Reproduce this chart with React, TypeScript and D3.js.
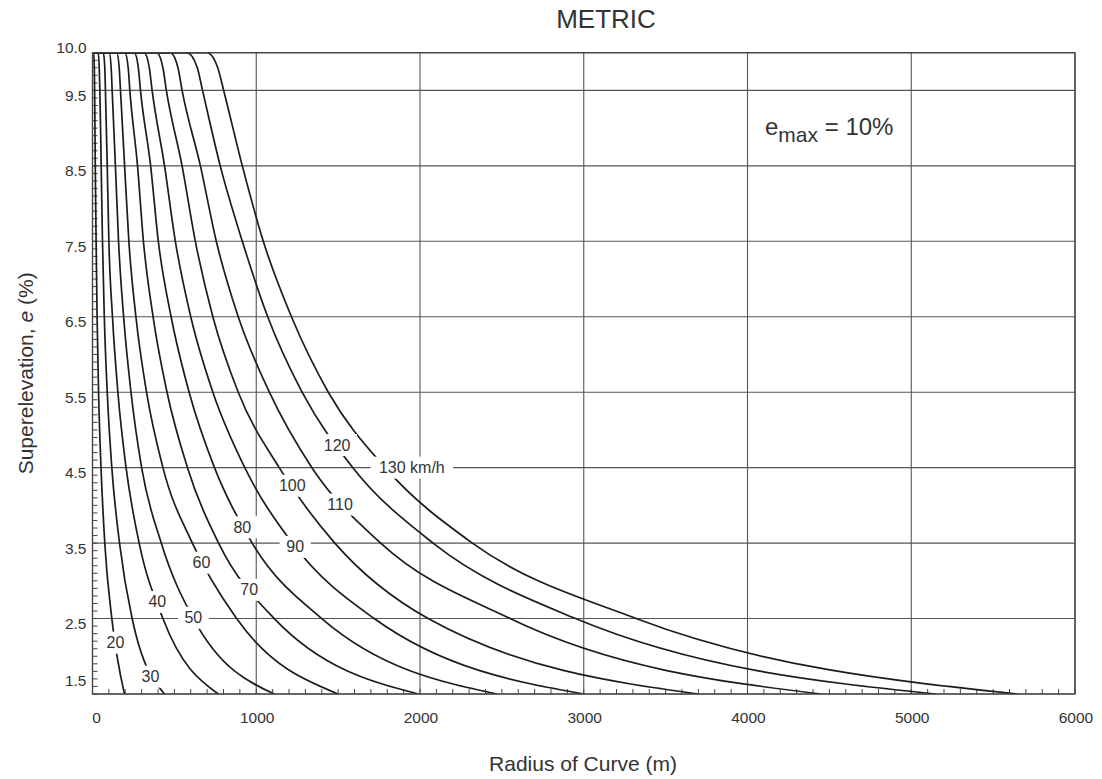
import * as d3 from "d3";

// superelevation levels (%) at which the radii below are read off the chart
// (first two entries are the lead-in along the e = 10 line)
const eLevels = [10, 10, 9.8, 9.5, 8.5, 7.5, 6.5, 5.5, 4.5, 3.5, 2.5, 1.5];

// radius of curve (m) per design speed, one value per eLevel
const r20 = [0, 8, 11, 13, 17, 22, 28, 37, 52, 75, 118, 195];
const r30 = [0, 35, 41, 45, 53, 61, 72, 90, 118, 165, 242, 440];
const r40 = [0, 66, 75, 79, 90, 100, 122, 155, 205, 285, 430, 768];
const r50 = [0, 102, 114, 120, 140, 159, 190, 235, 300, 420, 616, 1110];
const r60 = [0, 148, 163, 171, 196, 222, 265, 330, 430, 610, 880, 1500];
const r70 = [0, 198, 218, 228, 275, 311, 370, 455, 580, 770, 1110, 1990];
const r80 = [0, 255, 280, 293, 355, 402, 480, 590, 745, 975, 1400, 2470];
const r90 = [0, 315, 347, 364, 440, 506, 600, 735, 930, 1220, 1720, 3000];
const r100 = [0, 392, 430, 451, 547, 628, 735, 890, 1140, 1480, 2050, 3700];
const r110 = [0, 475, 522, 547, 659, 756, 890, 1080, 1340, 1760, 2550, 4450];
const r120 = [0, 577, 640, 672, 780, 915, 1070, 1280, 1590, 2080, 2950, 5150];
const r130 = [0, 700, 765, 801, 915, 1043, 1215, 1440, 1787, 2320, 3320, 5650];
const radii = [r20, r30, r40, r50, r60, r70, r80, r90, r100, r110, r120, r130];

// speed labels sitting on the curves (R in m, e in %)
const labelText = ["20", "30", "40", "50", "60", "70", "80", "90", "100", "110", "120", "130 km/h"];
const labelR = [140, 354, 396, 616, 665, 957, 915, 1238, 1220, 1512, 1494, 1950];
const labelE = [2.18, 1.73, 2.72, 2.51, 3.24, 2.88, 3.71, 3.45, 4.26, 4.01, 4.8, 4.5];

const yTicks = [10.0, 9.5, 8.5, 7.5, 6.5, 5.5, 4.5, 3.5, 2.5, 1.5];
const xTicks = [0, 1000, 2000, 3000, 4000, 5000, 6000];

const W = 1102;
const H = 779;
const FONT = "'Liberation Sans', Arial, Helvetica, sans-serif";
const INK = "#333";

export default function App() {
  const x = d3.scaleLinear().domain([0, 6000]).range([92.5, 1075]);
  const y = d3.scaleLinear().domain([1.5, 10]).range([694, 52.7]);

  const lineGen = d3
    .line<[number, number]>()
    .x((d) => x(d[0]))
    .y((d) => y(d[1]))
    .curve(d3.curveMonotoneX);

  const minorY = d3.range(15, 101).map((v) => v / 10);
  const minorX = d3.range(0, 6001, 100);

  const [x0, x1] = x.range();
  const [yb, yt] = y.range();

  return (
    <svg
      width={W}
      height={H}
      viewBox={`0 0 ${W} ${H}`}
      style={{ position: "absolute", left: 0, top: 0, background: "#fff" }}
      fontFamily={FONT}
    >
      <defs>
        <clipPath id="plot">
          <rect x={x0} y={yt} width={x1 - x0} height={yb - yt} />
        </clipPath>
      </defs>

      {/* grid */}
      {yTicks.map((v) => (
        <line key={`gy${v}`} x1={x0} x2={x1} y1={y(v)} y2={y(v)} stroke="#555" strokeWidth={1.1} />
      ))}
      {xTicks.map((v) => (
        <line key={`gx${v}`} x1={x(v)} x2={x(v)} y1={yt} y2={yb} stroke="#555" strokeWidth={1.1} />
      ))}

      {/* minor ticks */}
      {minorY.map((v) => (
        <line key={`my${v}`} x1={x0} x2={x0 + 5} y1={y(v)} y2={y(v)} stroke="#444" strokeWidth={1} />
      ))}
      {minorX.map((v) => (
        <line key={`mx${v}`} x1={x(v)} x2={x(v)} y1={yb} y2={yb - 5} stroke="#444" strokeWidth={1} />
      ))}

      {/* curves */}
      <g clipPath="url(#plot)">
        {radii.map((rs, i) => (
          <path
            key={`c${i}`}
            d={lineGen(rs.map((r, j) => [r, eLevels[j]] as [number, number])) ?? ""}
            fill="none"
            stroke="#1c1c1c"
            strokeWidth={1.7}
          />
        ))}
      </g>

      {/* frame */}
      <rect x={x0} y={yt} width={x1 - x0} height={yb - yt} fill="none" stroke="#444" strokeWidth={1.3} />

      {/* curve labels with white knock-out */}
      {labelText.map((t, i) => {
        const cx = x(labelR[i]);
        const cy = y(labelE[i]);
        const w = t.length * 8.6;
        return (
          <g key={`l${i}`}>
            <rect x={cx - w / 2 - 7} y={cy - 11} width={w + 14} height={22} fill="#fff" />
            <text x={cx} y={cy} textAnchor="middle" dominantBaseline="central" fontSize={16} fill={INK}>
              {t}
            </text>
          </g>
        );
      })}

      {/* y tick labels */}
      {yTicks.map((v) => (
        <text
          key={`ty${v}`}
          x={x0 - 6}
          y={y(v) + (v === 10 ? -5.5 : v === 1.5 ? -14 : 5)}
          textAnchor="end"
          dominantBaseline="central"
          fontSize={15.5}
          fill={INK}
        >
          {v.toFixed(1)}
        </text>
      ))}

      {/* x tick labels */}
      {xTicks.map((v) => (
        <text
          key={`tx${v}`}
          x={x(v) + (v === 0 ? 4 : 1)}
          y={yb + 23}
          textAnchor="middle"
          dominantBaseline="central"
          fontSize={15.5}
          fill={INK}
        >
          {v}
        </text>
      ))}

      {/* titles */}
      <text x={606} y={28} textAnchor="middle" fontSize={26} fill={INK}>
        METRIC
      </text>
      <text x={583} y={771} textAnchor="middle" fontSize={21} fill={INK}>
        Radius of Curve (m)
      </text>
      <text
        transform={`translate(33, ${(yt + yb) / 2}) rotate(-90)`}
        textAnchor="middle"
        fontSize={21}
        fill={INK}
      >
        Superelevation, <tspan fontStyle="italic">e</tspan> (%)
      </text>

      {/* e max annotation */}
      <text x={765} y={135} fontSize={24} fill={INK}>
        <tspan>e</tspan>
        <tspan fontSize={21} dy={7}>max</tspan>
        <tspan dy={-7}> = 10%</tspan>
      </text>
    </svg>
  );
}
